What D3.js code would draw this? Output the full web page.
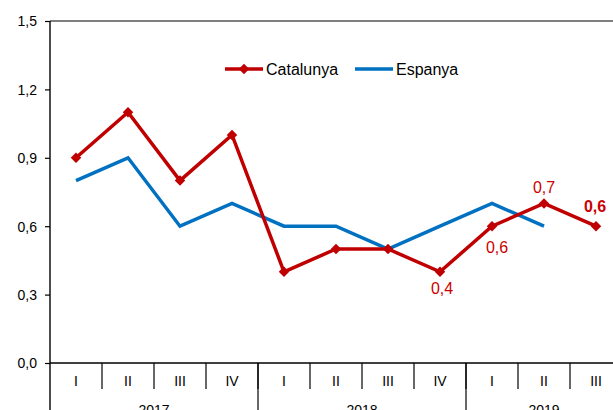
<!DOCTYPE html>
<html>
<head>
<meta charset="utf-8">
<script src="https://cdn.jsdelivr.net/npm/d3@7"></script>
<style>
body { margin: 0; background: #fff; }
text { font-family: "Liberation Sans", Arial, sans-serif; }
</style>
</head>
<body>
<div id="chart"></div>
<script>
var quarters = ["I", "II", "III", "IV", "I", "II", "III", "IV", "I", "II", "III"];
var years = ["2017", "2018", "2019"];
var yearSpan = [4, 4, 3];
var catalunya = [0.9, 1.1, 0.8, 1.0, 0.4, 0.5, 0.5, 0.4, 0.6, 0.7, 0.6];
var espanya = [0.8, 0.9, 0.6, 0.7, 0.6, 0.6, 0.5, 0.6, 0.7, 0.6];
var yTicks = [0, 0.3, 0.6, 0.9, 1.2, 1.5];
// catalunya points that carry a value label
var labelIdx = [7, 8, 9, 10];
var boldIdx = [10];

var W = 613, H = 410;
var x0 = 50, yTop = 21, yBot = 363;
var bandW = 52;

// label offsets (dx, dy from the point to the text baseline)
var labelOff = {7: [2, 22], 8: [5, 27], 9: [0, -10], 10: [-1, -14]};

var svg = d3.select("#chart").append("svg")
    .attr("width", W)
    .attr("height", H);

var x = d3.scaleBand()
    .domain(d3.range(quarters.length))
    .range([x0, x0 + bandW * quarters.length])
    .padding(0);

var y = d3.scaleLinear()
    .domain([0, 1.5])
    .range([yBot, yTop]);

var fmt = function(v) { return d3.format(".1f")(v).replace(".", ","); };

// frame top line
svg.append("line")
    .attr("x1", x0).attr("x2", W)
    .attr("y1", yTop).attr("y2", yTop)
    .attr("stroke", "#000").attr("stroke-width", 1.2);

// y axis
var yAxis = d3.axisLeft(y)
    .tickValues(yTicks)
    .tickSize(5)
    .tickFormat(fmt);

var gy = svg.append("g")
    .attr("transform", "translate(" + x0 + ",0)")
    .call(yAxis);
gy.select(".domain").remove();
gy.selectAll(".tick line").attr("stroke", "#000").attr("stroke-width", 1.2);
gy.selectAll(".tick text")
    .attr("x", -13)
    .attr("dy", "0.35em")
    .style("font-size", "14px")
    .attr("fill", "#000");

svg.append("line")
    .attr("x1", x0).attr("x2", x0)
    .attr("y1", yTop).attr("y2", H)
    .attr("stroke", "#000").attr("stroke-width", 1.4);

// x axis baseline
svg.append("line")
    .attr("x1", x0).attr("x2", W)
    .attr("y1", yBot).attr("y2", yBot)
    .attr("stroke", "#000").attr("stroke-width", 1.4);

// quarter separator ticks
svg.selectAll("line.qtick")
    .data(d3.range(1, quarters.length))
    .enter()
    .append("line")
    .attr("class", "qtick")
    .attr("x1", function(d) { return x(d); })
    .attr("x2", function(d) { return x(d); })
    .attr("y1", yBot)
    .attr("y2", yBot + 26)
    .attr("stroke", "#000").attr("stroke-width", 1.2);

// year separators
var cum = 0;
var yearInfo = years.map(function(yr, k) {
    var start = cum;
    cum += yearSpan[k];
    return {year: yr, start: start, end: cum};
});

svg.selectAll("line.ytick")
    .data(yearInfo.slice(1))
    .enter()
    .append("line")
    .attr("class", "ytick")
    .attr("x1", function(d) { return x(d.start); })
    .attr("x2", function(d) { return x(d.start); })
    .attr("y1", yBot)
    .attr("y2", H)
    .attr("stroke", "#000").attr("stroke-width", 1.2);

svg.selectAll("text.qlabel")
    .data(quarters)
    .enter()
    .append("text")
    .attr("class", "qlabel")
    .attr("x", function(d, i) { return x(i) + bandW / 2; })
    .attr("y", yBot + 23)
    .attr("text-anchor", "middle")
    .style("font-size", "14px")
    .text(function(d) { return d; });

svg.selectAll("text.ylabel")
    .data(yearInfo)
    .enter()
    .append("text")
    .attr("class", "ylabel")
    .attr("x", function(d) {
        var s = x(d.start);
        var e = x(0) + bandW * d.end;
        return (s + e) / 2;
    })
    .attr("y", yBot + 52)
    .attr("text-anchor", "middle")
    .style("font-size", "14px")
    .text(function(d) { return d.year; });

var red = "#C00000", blue = "#0070C0";

var line = d3.line()
    .x(function(d, i) { return x(i) + bandW / 2; })
    .y(function(d) { return y(d); });

svg.append("path")
    .datum(espanya)
    .attr("d", line)
    .attr("fill", "none")
    .attr("stroke", blue)
    .attr("stroke-width", 3.5)
    .attr("stroke-linejoin", "miter");

svg.append("path")
    .datum(catalunya)
    .attr("d", line)
    .attr("fill", "none")
    .attr("stroke", red)
    .attr("stroke-width", 3.5);

var diamond = d3.symbol().type(d3.symbolDiamond2).size(70);

svg.selectAll("path.mark")
    .data(catalunya)
    .enter()
    .append("path")
    .attr("class", "mark")
    .attr("d", diamond)
    .attr("transform", function(d, i) {
        return "translate(" + (x(i) + bandW / 2) + "," + y(d) + ")";
    })
    .attr("fill", red);

svg.selectAll("text.plabel")
    .data(labelIdx)
    .enter()
    .append("text")
    .attr("class", "plabel")
    .attr("x", function(i) { return x(i) + bandW / 2 + labelOff[i][0]; })
    .attr("y", function(i) { return y(catalunya[i]) + labelOff[i][1]; })
    .attr("text-anchor", "middle")
    .attr("fill", "#CC0000")
    .style("font-size", "16px")
    .style("font-weight", function(i) { return boldIdx.indexOf(i) >= 0 ? "bold" : "normal"; })
    .text(function(i) { return fmt(catalunya[i]); });

// legend
var leg = svg.append("g").attr("transform", "translate(225,69)");
leg.append("line")
    .attr("x1", 0).attr("x2", 38).attr("y1", 0).attr("y2", 0)
    .attr("stroke", red).attr("stroke-width", 3.5);
leg.append("path")
    .attr("d", diamond)
    .attr("transform", "translate(19,0)")
    .attr("fill", red);
leg.append("text")
    .attr("x", 41).attr("y", 0).attr("dy", "0.35em")
    .style("font-size", "16px")
    .text("Catalunya");
leg.append("line")
    .attr("x1", 130).attr("x2", 168).attr("y1", 0).attr("y2", 0)
    .attr("stroke", blue).attr("stroke-width", 3.5);
leg.append("text")
    .attr("x", 171).attr("y", 0).attr("dy", "0.35em")
    .style("font-size", "16px")
    .text("Espanya");
</script>
</body>
</html>
